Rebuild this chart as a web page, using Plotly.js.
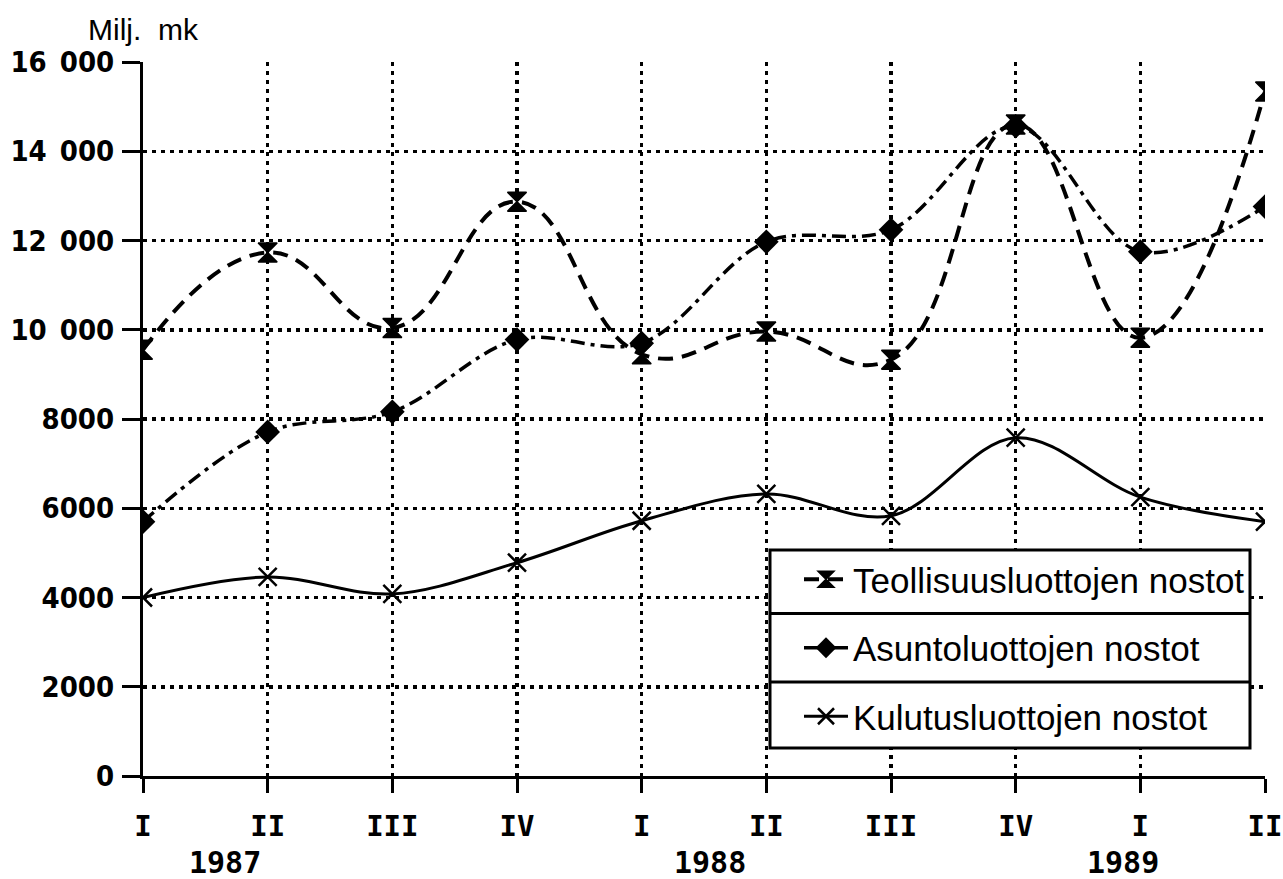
<!DOCTYPE html>
<html>
<head>
<meta charset="utf-8">
<script src="https://cdn.plot.ly/plotly-3.0.1.min.js"></script>
<style>
  html, body { margin: 0; padding: 0; background: #fff; }
  #chart { width: 1283px; height: 879px; }
</style>
</head>
<body>
<div id="chart"></div>
<script>
// Quarters 1987 I .. 1989 II
const quarterLabels = ["I", "II", "III", "IV", "I", "II", "III", "IV", "I", "II"];
const quarterIndex = [0, 1, 2, 3, 4, 5, 6, 7, 8, 9];
const years = ["1987", "1988", "1989"];

const seriesNames = ["Teollisuusluottojen nostot", "Asuntoluottojen nostot", "Kulutusluottojen nostot"];
const teollisuus = [9550, 11730, 10040, 12870, 9450, 9960, 9330, 14600, 9820, 15340];
const asunto     = [5700, 7710, 8160, 9780, 9700, 11970, 12240, 14560, 11750, 12760];
const kulutus    = [4000, 4460, 4080, 4780, 5720, 6320, 5830, 7580, 6250, 5700];

const yTickVals = [0, 2000, 4000, 6000, 8000, 10000, 12000, 14000, 16000];
const yTickText = ["0", "2000", "4000", "6000", "8000", "10\u2002000", "12\u2002000", "14\u2002000", "16\u2002000"];

const black = "#000000";
const monoFont = "DejaVu Sans Mono, Liberation Mono, monospace";
const legendFont = { family: "Liberation Sans, Arial, sans-serif", size: 35, color: black };

const traces = [
  {
    x: quarterIndex, y: teollisuus, name: seriesNames[0], legendgroup: "a",
    mode: "lines+markers", type: "scatter",
    line: { color: black, width: 4, dash: "15px,9px", shape: "spline", smoothing: 1.3 },
    marker: { symbol: "hourglass", size: 19, color: black, line: { color: black, width: 1.5 } }
  },
  {
    x: quarterIndex, y: asunto, name: seriesNames[1], legendgroup: "b",
    mode: "lines+markers", type: "scatter",
    line: { color: black, width: 3.5, dash: "14px,6px,4px,6px", shape: "spline", smoothing: 1 },
    marker: { symbol: "diamond", size: 19, color: black }
  },
  {
    x: quarterIndex, y: kulutus, name: seriesNames[2], legendgroup: "c",
    mode: "lines+markers", type: "scatter",
    line: { color: black, width: 3, shape: "spline", smoothing: 1 },
    marker: { symbol: "x-thin-open", size: 18, color: black, line: { color: black, width: 2.5 } }
  }
];

const W = 1283, H = 879, L = 143, R = 18, T = 62, B = 103;
const plotW = W - L - R, plotH = H - T - B;
function py(px) { return (H - B - px) / plotH; }   // pixel row -> paper y
function pxx(px) { return (px - L) / plotW; }      // pixel col -> paper x

const layout = {
  width: W, height: H,
  margin: { l: L, r: R, t: T, b: B },
  paper_bgcolor: "#ffffff", plot_bgcolor: "#ffffff",
  showlegend: true,
  legend: {
    x: pxx(1250), xanchor: "right", y: py(550), yanchor: "top",
    bgcolor: "rgba(0,0,0,0)", borderwidth: 0,
    font: legendFont, tracegroupgap: 20, itemwidth: 44
  },
  xaxis: {
    range: [0, 9], tickmode: "array", tickvals: quarterIndex, ticktext: quarterLabels,
    showline: true, linecolor: black, linewidth: 3,
    ticks: "outside", ticklen: 14, tickwidth: 3, tickcolor: black,
    ticklabeloverflow: "allow", ticklabelstandoff: 8,
    showgrid: true, gridcolor: black, gridwidth: 3.5, griddash: "4px,5px",
    zeroline: false,
    tickfont: { family: monoFont, size: 29, color: black, weight: "bold" },
    fixedrange: true
  },
  yaxis: {
    range: [0, 16000], tickmode: "array", tickvals: yTickVals, ticktext: yTickText,
    showline: true, linecolor: black, linewidth: 3,
    ticks: "outside", ticklen: 18, tickwidth: 3, tickcolor: black,
    ticklabelstandoff: 2,
    showgrid: true, gridcolor: black, gridwidth: 3.5, griddash: "4px,5px",
    zeroline: false,
    tickfont: { family: "DejaVu Sans Condensed, DejaVu Sans, sans-serif", size: 29, color: black, weight: "bold" },
    fixedrange: true
  },
  annotations: [
    { text: "Milj.\u00a0\u00a0mk", xref: "paper", yref: "paper", x: pxx(86), y: py(30), xanchor: "left", yanchor: "middle",
      showarrow: false, font: { family: "Liberation Sans, Arial, sans-serif", size: 30, color: black } },
    { text: years[0], xref: "x", yref: "paper", x: 0.66, y: py(862), xanchor: "center", yanchor: "middle",
      showarrow: false, font: { family: monoFont, size: 30, color: black, weight: "bold" } },
    { text: years[1], xref: "x", yref: "paper", x: 4.55, y: py(862), xanchor: "center", yanchor: "middle",
      showarrow: false, font: { family: monoFont, size: 30, color: black, weight: "bold" } },
    { text: years[2], xref: "x", yref: "paper", x: 7.86, y: py(862), xanchor: "center", yanchor: "middle",
      showarrow: false, font: { family: monoFont, size: 30, color: black, weight: "bold" } }
  ],
  shapes: []
};

Plotly.newPlot("chart", traces, layout, { displayModeBar: false, staticPlot: true }).then(function (gd) {
  // legend frame: white box with black border and row separators (drawn beneath the legend text)
  const bg = gd.querySelector(".legend .bg");
  const items = gd.querySelectorAll(".legend .traces");
  if (!bg || items.length < 3) return;
  const root = gd.getBoundingClientRect();
  const lb = bg.getBoundingClientRect();
  const x0 = pxx(770), x1 = pxx(1250);
  const top = lb.top - root.top, bottom = lb.bottom - root.top;
  const shapes = [{
    type: "rect", xref: "paper", yref: "paper", x0: x0, x1: x1, y0: py(bottom + 2), y1: py(top),
    fillcolor: "#ffffff", line: { color: black, width: 3 }, layer: "above"
  }];
  for (let i = 1; i < items.length; i++) {
    const a = items[i - 1].getBoundingClientRect();
    const b = items[i].getBoundingClientRect();
    const mid = ((a.bottom + b.top) / 2) - root.top;
    shapes.push({
      type: "line", xref: "paper", yref: "paper", x0: x0, x1: x1, y0: py(mid), y1: py(mid),
      line: { color: black, width: 3 }, layer: "above"
    });
  }
  Plotly.relayout(gd, { shapes: shapes });
});
</script>
</body>
</html>
